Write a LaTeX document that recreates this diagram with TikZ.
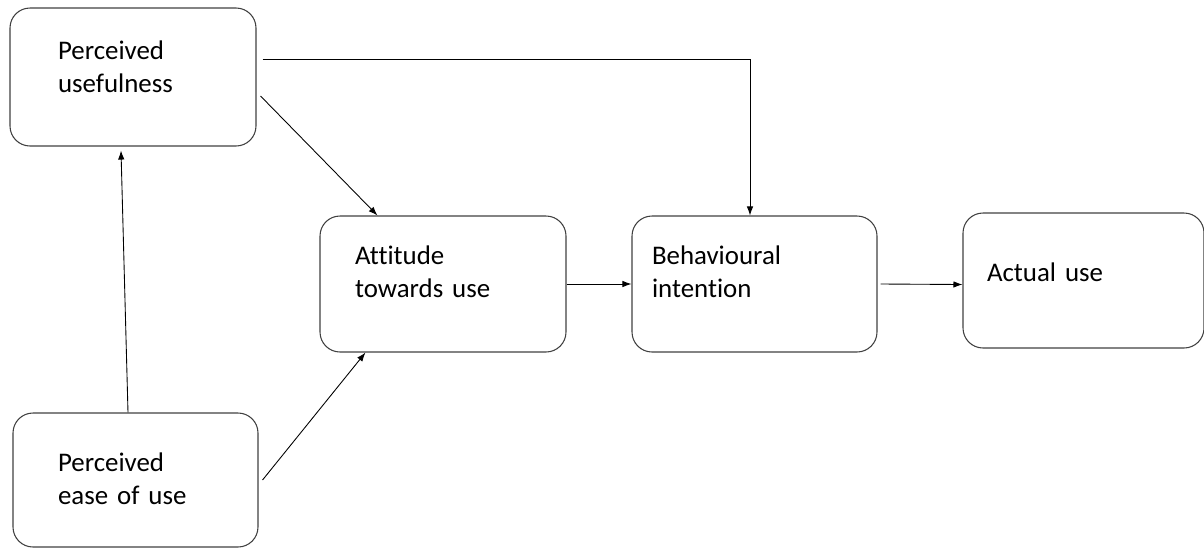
\documentclass[tikz,border=0pt]{standalone}
\usepackage{fontspec}
\setmainfont{Carlito}[Ligatures=NoCommon]
\usepackage{tikz}
\usetikzlibrary{arrows.meta}

\begin{document}
\begin{tikzpicture}[
            box/.style={draw=black!75, line width=0.6pt, rectangle, rounded corners=0.4cm, inner ysep=0pt, align=left, anchor=center, font=\fontsize{15.3pt}{18.8pt}\selectfont},
            link/.style={black, line width=0.5pt, -{Latex[length=1.8mm, width=1.3mm]}}]
            \useasboundingbox (0,0) rectangle (24.08,-10.96);
            \node[box, text width=3.0cm, inner xsep=0.96cm, text height=1.02cm, text depth=1.74cm] (Useful) at (2.66,-1.54) {Perceived\\usefulness};
            \node[box, text width=3.1cm, inner xsep=0.9cm, text height=1.16cm, text depth=1.52cm, below of=Useful, xshift=0.05cm, yshift=-7.06cm] (Ease) {Perceived\\ease of use};
            \node[box, text width=3.52cm, inner xsep=0.7cm, text height=0.96cm, text depth=1.76cm, right of=Useful, xshift=5.2cm, yshift=-4.14cm] (Attitude) {Attitude\\towards use};
            \node[box, text width=4.1cm, inner xsep=0.4cm, text height=0.96cm, text depth=1.76cm, right of=Attitude, xshift=5.23cm] (Intention) {Behavioural\\intention};
            \node[box, text width=3.86cm, inner xsep=0.48cm, text height=1.36cm, text depth=1.34cm, right of=Intention, xshift=5.58cm, yshift=0.07cm] (Use) {Actual use};
            \draw[link]([shift={(0.12,0.36)}]Useful.east) -| ([xshift=-0.09cm]Intention.north);
            \draw[link]([shift={(0.08,-0.38)}]Useful.east) -- ([xshift=1.16cm]Attitude.north west);
            \draw[link]([xshift=0.08cm]Ease.east) -- ([xshift=0.92cm]Attitude.south west);
            \draw[link]([xshift=-0.15cm]Ease.north) -- ([shift={(-0.24,-0.08)}]Useful.south);
            \draw[link](Attitude.east) -- (Intention.west);
            \draw[link]([xshift=0.06cm]Intention.east) -- ([yshift=-0.08cm]Use.west);
            \end{tikzpicture}
\end{document}
